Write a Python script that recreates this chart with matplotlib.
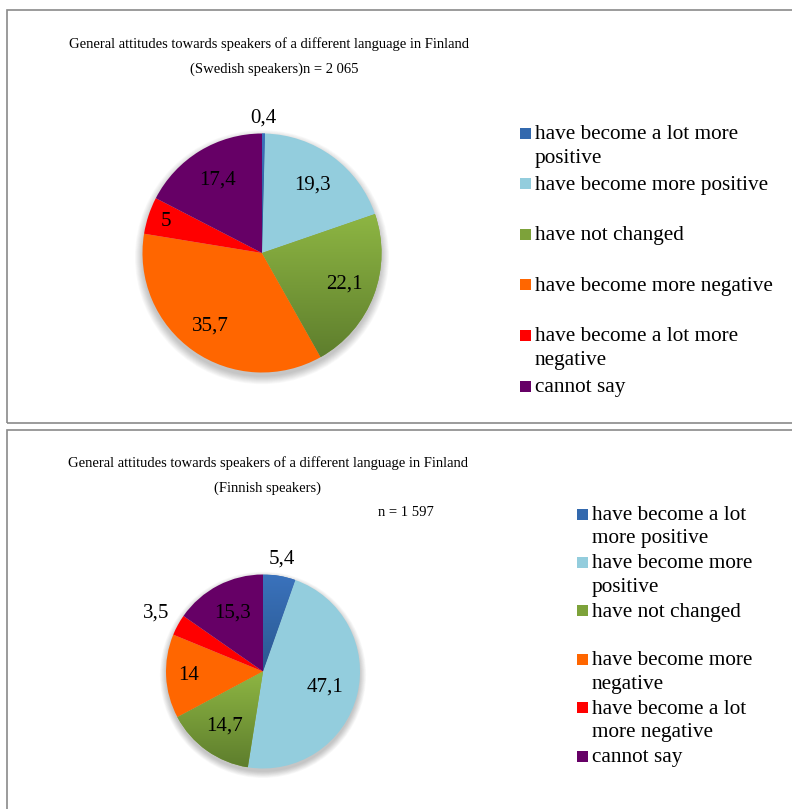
import numpy as np
import matplotlib
matplotlib.use("Agg")
import matplotlib.pyplot as plt
from matplotlib.patches import Rectangle, Circle
from matplotlib.colors import LinearSegmentedColormap

plt.rcParams['font.family'] = ['Liberation Serif', 'DejaVu Serif']

# answer categories (shared by both charts)
categories = ["have become a lot more positive", "have become more positive",
              "have not changed", "have become more negative",
              "have become a lot more negative", "cannot say"]

# Swedish speakers, n = 2 065
swedish_values = [0.4, 19.3, 22.1, 35.7, 5, 17.4]
swedish_legend = ["have become a lot more\npositive", "have become more positive",
                  "have not changed", "have become more negative",
                  "have become a lot more\nnegative", "cannot say"]

# Finnish speakers, n = 1 597
finnish_values = [5.4, 47.1, 14.7, 14, 3.5, 15.3]
finnish_legend = ["have become a lot\nmore positive", "have become more\npositive",
                  "have not changed", "have become more\nnegative",
                  "have become a lot\nmore negative", "cannot say"]

colors = ["#3369AE", "#93CDDD", "#7DA23A", "#FF6600", "#FF0000", "#660066"]
# slices drawn with a top-to-bottom gradient
gradients = {0: ("#3A72BC", "#2A5890"), 2: ("#8EB643", "#5E7E2D")}

W, H = 792, 809
fig = plt.figure(figsize=(W / 100, H / 100), dpi=100)


def fx(px):
    return px / W


def fy(py):
    return 1 - py / H


def draw_pie(cx, cy, r_px, values, label_dist):
    half = 150
    ax = fig.add_axes([fx(cx - half), fy(cy + half), 2 * half / W, 2 * half / H])
    lim = half / r_px
    # soft shadow under the pie
    for k in range(10):
        ax.add_patch(Circle((0, -0.035), 1 + 0.007 * k, color="k",
                            alpha=0.022, lw=0, zorder=0))
    wedges, _ = ax.pie(values, colors=colors, startangle=90, counterclock=False,
                       radius=1, wedgeprops=dict(linewidth=0))
    for i, (c0, c1) in gradients.items():
        w = wedges[i]
        ext = w.get_path().get_extents()
        cmap = LinearSegmentedColormap.from_list("g", [c0, c1])
        grad = np.linspace(0, 1, 256).reshape(-1, 1)
        im = ax.imshow(grad, cmap=cmap, aspect="auto", origin="upper",
                       extent=[ext.x0, ext.x1, ext.y0, ext.y1], zorder=w.get_zorder() + 0.1)
        im.set_clip_path(w)
    ax.set_xlim(-lim, lim)
    ax.set_ylim(-lim, lim)
    ax.set_aspect("equal")
    ax.axis("off")

    # data labels
    total = sum(values)
    cum = 0
    for v, d in zip(values, label_dist):
        mid = 90 - (cum + v / 2) / total * 360
        cum += v
        a = np.deg2rad(mid)
        ax.text(d * np.cos(a), d * np.sin(a), f"{v:g}".replace(".", ","),
                ha="center", va="center", fontsize=15, zorder=5)
    return ax


def draw_legend(x_sq, y_first, step, labels, line_h=24):
    for i, (lab, col) in enumerate(zip(labels, colors)):
        y = y_first + i * step
        fig.add_artist(Rectangle((fx(x_sq), fy(y + 5.5)), 11 / W, 11 / H,
                                 transform=fig.transFigure, color=col, lw=0))
        # wrapped entries: one text per line so the first line sits by the square
        for j, part in enumerate(lab.split("\n")):
            fig.text(fx(x_sq + 15), fy(y + 6 + j * line_h), part, fontsize=15.3,
                     ha="left", va="baseline")


# panel borders
for top, bottom in [(10, 423), (430, 830)]:
    fig.add_artist(Rectangle((fx(7), fy(bottom)), (W + 20) / W, (bottom - top) / H,
                             transform=fig.transFigure, fill=False,
                             edgecolor="#8A8A8A", lw=1.2))

# Swedish speakers
fig.text(fx(269), fy(44), "General attitudes towards speakers of a different language in Finland",
         ha="center", va="center", fontsize=10.5)
fig.text(fx(274), fy(69), "(Swedish speakers)n = 2 065", ha="center", va="center", fontsize=10.5)
draw_pie(262, 253, 119.5, swedish_values, [1.13, 0.71, 0.74, 0.75, 0.845, 0.71])
draw_legend(520, 133, 50.6, swedish_legend)

# Finnish speakers
fig.text(fx(268), fy(463), "General attitudes towards speakers of a different language in Finland",
         ha="center", va="center", fontsize=10.5)
fig.text(fx(268), fy(488), "(Finnish speakers)", ha="center", va="center", fontsize=10.5)
fig.text(fx(406), fy(513), "n = 1 597", ha="center", va="center", fontsize=10.5)
draw_pie(263, 671.5, 97, finnish_values, [1.18, 0.66, 0.69, 0.77, 1.26, 0.68])
draw_legend(577, 514, 48.4, finnish_legend, line_h=23.5)

fig.savefig("out.png", dpi=100)
